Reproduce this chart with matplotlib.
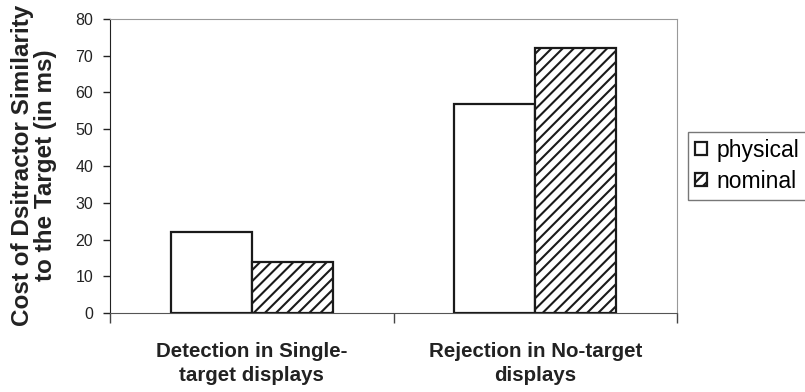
import matplotlib.pyplot as plt
import numpy as np

plt.rcParams['font.family'] = ['Liberation Sans', 'DejaVu Sans']
plt.rcParams['hatch.linewidth'] = 1.5

categories = ["Detection in Single-\ntarget displays", "Rejection in No-target\ndisplays"]
physical = [22, 57]
nominal = [14, 72]

fig = plt.figure(figsize=(8.05, 3.92), dpi=100)
ax = fig.add_axes([110/805, 1 - 313/392, (677-110)/805, (313-19)/392])

x = np.arange(len(categories))
w = 0.286
ax.bar(x - w/2, physical, w, color="white", edgecolor="#1a1a1a", linewidth=1.6, label="physical", zorder=3)
ax.bar(x + w/2, nominal, w, color="white", edgecolor="#1a1a1a", linewidth=1.6, hatch="///", label="nominal", zorder=3)

ax.set_xlim(-0.5, 1.5)
ax.set_ylim(0, 80)
ax.set_yticks(range(0, 81, 10))
ax.tick_params(axis="y", labelsize=11.5, length=5, width=1, pad=7, colors="#222222")

ax.set_xticks(x)
ax.set_xticklabels(categories, fontsize=14.8, fontweight="bold", color="#222222", linespacing=1.3)
ax.tick_params(axis="x", which="major", length=0, pad=21)
ax.set_xticks([-0.5, 0.5, 1.5], minor=True)
ax.tick_params(axis="x", which="minor", length=7, width=1, direction="out", colors="#444444")

ax.spines["left"].set_color("#222222")
ax.spines["bottom"].set_color("#555555")
ax.spines["top"].set_color("#999999")
ax.spines["right"].set_color("#999999")

fig.text(34/805, 1 - 165/392, "Cost of Dsitractor Similarity\nto the Target (in ms)", rotation=90,
         ha="center", va="center", multialignment="center", fontsize=17.5, fontweight="bold",
         color="#222222", linespacing=1.0)

leg = fig.legend(loc="upper left", bbox_to_anchor=(688/805, 1 - 132/392), fontsize=16.5,
                 frameon=True, fancybox=False, edgecolor="#555555", borderpad=0.3,
                 handlelength=0.52, handleheight=0.52, handletextpad=0.44, labelspacing=0.35,
                 borderaxespad=0)
leg.get_frame().set_linewidth(1.0)

plt.savefig("out.png", dpi=100)
